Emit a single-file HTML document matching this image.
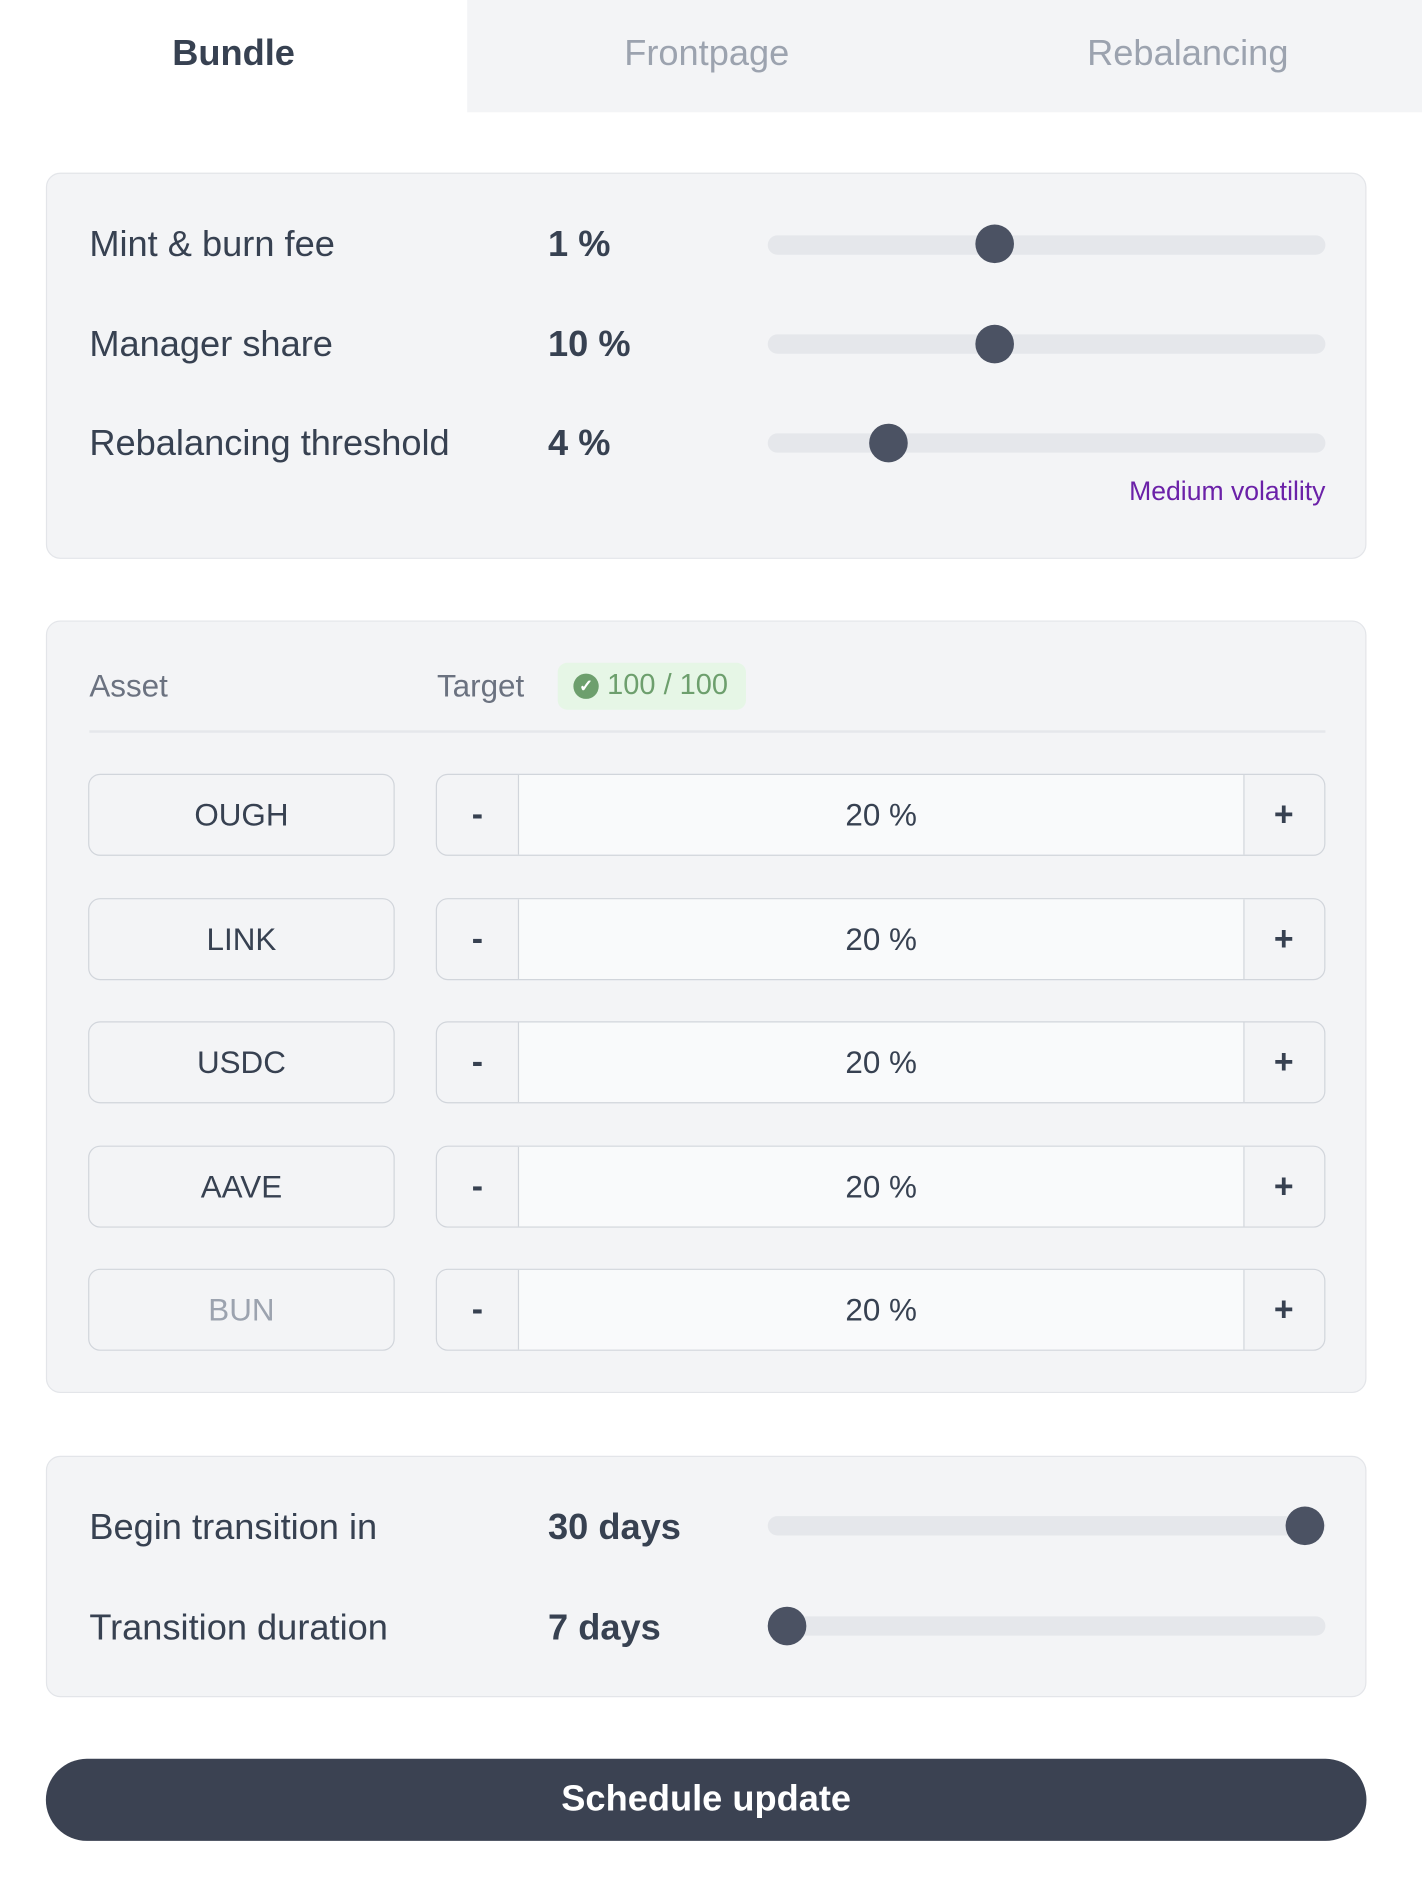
<!DOCTYPE html>
<html><head><meta charset="utf-8"><style>
html,body{margin:0;padding:0;background:#fff;width:1422px;height:1895px;overflow:hidden}
#w{position:absolute;left:0;top:0;width:1178px;height:1570px;transform:scale(1.20713);transform-origin:0 0;font-family:"Liberation Sans",sans-serif;color:#374151}
.a{position:absolute}
.tab{position:absolute;top:0;height:93px;line-height:90px;text-align:center;font-size:30px}
.panel{position:absolute;left:38px;width:1092px;background:#f3f4f6;border:1px solid #e3e5e9;border-radius:12px}
.lbl{position:absolute;left:74px;font-size:30px;color:#374151;transform:translateY(-50%)}
.val{position:absolute;left:454px;font-size:30px;font-weight:bold;color:#374151;transform:translateY(-50%)}
.track{position:absolute;left:636px;width:462px;height:16px;border-radius:8px;background:#e5e7eb;transform:translateY(-50%)}
.thumb{position:absolute;width:32px;height:32px;border-radius:50%;background:#4b5263;transform:translate(-50%,-50%)}
.asset{position:absolute;left:73px;width:252px;height:66px;border:1px solid #d1d5db;border-radius:10px;background:#f3f4f6;text-align:center;line-height:66px;font-size:26px;color:#374151}
.step{position:absolute;left:361px;width:735px;height:66px;border:1px solid #d1d5db;border-radius:10px;background:#f3f4f6;overflow:hidden}
.step .m{position:absolute;left:0;top:0;width:67px;height:66px;line-height:66px;text-align:center;font-size:28px;font-weight:bold}
.step .c{position:absolute;left:67px;top:0;width:600px;height:66px;border-left:1px solid #d1d5db;border-right:1px solid #d1d5db;background:#f9fafb;text-align:center;line-height:66px;font-size:26px}
.step .p{position:absolute;left:668px;top:0;width:67px;height:66px;line-height:66px;text-align:center;font-size:28px;font-weight:bold}
</style></head><body><div id="w">
<div class="tab" style="left:0;width:387px;background:#fff;font-weight:bold;color:#374151">Bundle</div>
<div class="a" style="left:387px;top:0;width:791px;height:93px;background:#f3f4f6"></div>
<div class="tab" style="left:387px;width:397px;color:#9ca3af">Frontpage</div>
<div class="tab" style="left:784px;width:400px;color:#9ca3af">Rebalancing</div>

<div class="panel" style="top:143px;height:318px"></div>
<div class="lbl" style="top:203px">Mint &amp; burn fee</div><div class="val" style="top:203px">1 %</div>
<div class="track" style="top:203px"></div><div class="thumb" style="left:824px;top:202px"></div>
<div class="lbl" style="top:286px">Manager share</div><div class="val" style="top:286px">10 %</div>
<div class="track" style="top:285px"></div><div class="thumb" style="left:824px;top:285px"></div>
<div class="lbl" style="top:368px">Rebalancing threshold</div><div class="val" style="top:368px">4 %</div>
<div class="track" style="top:367px"></div><div class="thumb" style="left:736px;top:367px"></div>
<div class="a" style="right:80px;top:394px;font-size:22px;color:#6b21a8">Medium volatility</div>

<div class="panel" style="top:514px;height:638px"></div>
<div class="a" style="left:74px;top:553px;font-size:26px;color:#6b7280">Asset</div>
<div class="a" style="left:362px;top:553px;font-size:26px;color:#6b7280">Target</div>
<div class="a" style="left:462px;top:549px;width:156px;height:39px;border-radius:8px;background:#e6f6e6"></div>
<div class="a" style="left:475px;top:558px;width:21px;height:21px;border-radius:50%;background:#6d9f6d;color:#fff;font-size:14px;line-height:21px;text-align:center;font-weight:bold">✓</div>
<div class="a" style="left:503px;top:554px;font-size:24px;color:#6d9f6d">100 / 100</div>
<div class="a" style="left:74px;top:605px;width:1024px;height:2px;background:#e5e7eb"></div>

<div class="asset" style="top:641px">OUGH</div>
<div class="step" style="top:641px"><div class="m">-</div><div class="c">20 %</div><div class="p">+</div></div>
<div class="asset" style="top:744px">LINK</div>
<div class="step" style="top:744px"><div class="m">-</div><div class="c">20 %</div><div class="p">+</div></div>
<div class="asset" style="top:846px">USDC</div>
<div class="step" style="top:846px"><div class="m">-</div><div class="c">20 %</div><div class="p">+</div></div>
<div class="asset" style="top:949px">AAVE</div>
<div class="step" style="top:949px"><div class="m">-</div><div class="c">20 %</div><div class="p">+</div></div>
<div class="asset" style="top:1051px;color:#9ca3af">BUN</div>
<div class="step" style="top:1051px"><div class="m">-</div><div class="c">20 %</div><div class="p">+</div></div>

<div class="panel" style="top:1206px;height:198px"></div>
<div class="lbl" style="top:1266px">Begin transition in</div><div class="val" style="top:1266px">30 days</div>
<div class="track" style="top:1264px"></div><div class="thumb" style="left:1081px;top:1264px"></div>
<div class="lbl" style="top:1349px">Transition duration</div><div class="val" style="top:1349px">7 days</div>
<div class="track" style="top:1347px"></div><div class="thumb" style="left:652px;top:1347px"></div>

<div class="a" style="left:38px;top:1457px;width:1094px;height:68px;border-radius:34px;background:#3b4252;color:#fff;font-size:30px;font-weight:bold;text-align:center;line-height:68px">Schedule update</div>
</div></body></html>
